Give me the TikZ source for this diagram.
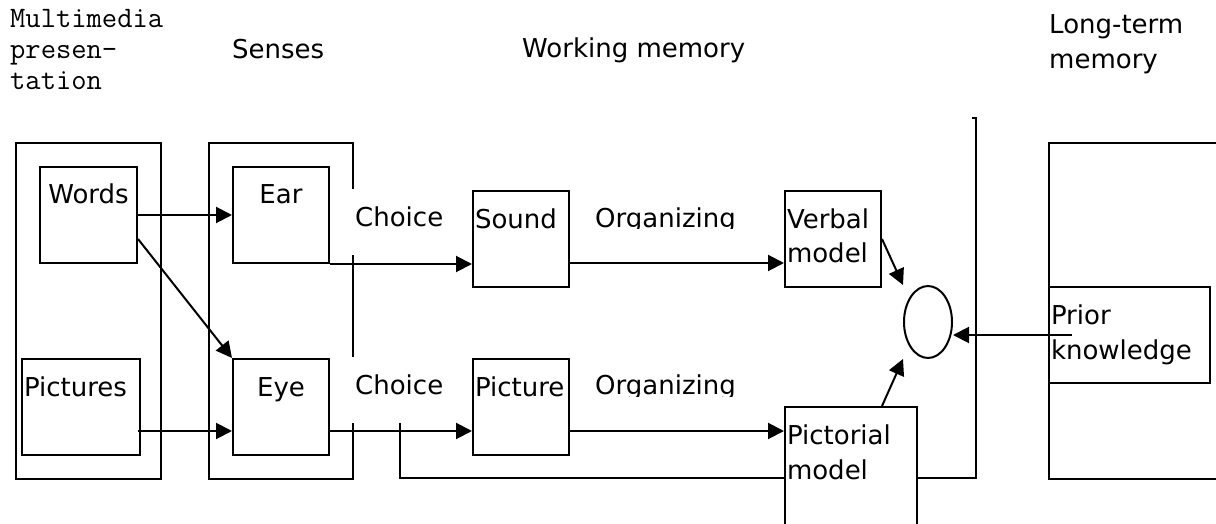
\documentclass[tikz,border=0pt]{standalone}
\usepackage{fontspec}
\setmainfont{DejaVu Sans}
\usetikzlibrary{arrows.meta,shapes.geometric}
\tikzset{
  box/.style={draw,line width=2pt,anchor=north west,inner xsep=2pt,inner ysep=0pt,
    align=left,text height=37pt,text depth=59pt,font=\fontsize{26}{35}\selectfont},
  gapbox/.style={fill=white,anchor=north west,inner xsep=3pt,inner ysep=0pt,
    text width=92pt,align=left,text height=37.7pt,text depth=28.3pt,
    font=\fontsize{26}{35}\selectfont},
  heading/.style={anchor=base west,inner sep=0pt,align=left,
    font=\fontsize{26}{35}\selectfont},
  flow/.style={-{Triangle[length=16pt,width=16pt]},line width=2pt},
  border/.style={line width=2pt}
}
\begin{document}
\begin{tikzpicture}[x=1pt,y=-1pt]
  \useasboundingbox (0,0) rectangle (1216,524);
  \clip (0,0) rectangle (1216,524);
  % Column headings
  \node[heading,text width=200pt,font=\ttfamily\fontsize{29.7}{31}\selectfont] (mmhead) at (10,28)
    {Multimedia\\presen-\\tation};
  \node[heading] (senhead) at (232,59) {Senses};
  \node[heading] (wmhead) at (522,58) {Working memory};
  \node[heading,text width=160pt] (ltmhead) at (1049,34) {Long-term\\memory};
  % Presentation and senses
  \node[box,text width=141pt,text depth=299pt] (pres) at (15,142) {};
  \node[box,text width=93pt,align=center] (words) at (39,166) {Words};
  \node[box,text width=114pt] (pictures) at (21,358) {Pictures};
  \node[box,text width=140pt,text depth=299pt] (senses) at (208,142) {};
  \node[box,text width=92pt,align=center] (ear) at (232,166) {Ear};
  \node[box,text width=92pt,align=center] (eye) at (232,358) {Eye};
  % Working memory
  \node[gapbox] (choice1) at (352,189) {Choice};
  \node[gapbox] (choice2) at (352,357) {Choice};
  \node[box,text width=92pt] (sound) at (472,190) {Sound};
  \node[box,text width=92pt] (picture) at (472,358) {Picture};
  \begin{scope}
    \clip (590,190) rectangle (760,228.5) (590,358) rectangle (760,396.5);
    \node[heading] (org1) at (595,227) {Organizing};
    \node[heading] (org2) at (595,394.5) {Organizing};
  \end{scope}
  \node[box,text width=92pt] (verbal) at (784,190) {Verbal\\model};
  \coordinate (split) at (400,423);
  \coordinate (wmtop) at (972,118);
  \draw[border] (split) -- (400,478) -- (976,478) -- (976,118) -- (wmtop);
  \node[box,fill=white,text width=128pt,text depth=97pt] (pictorial) at (784,406) {Pictorial\\model};
  \node[draw,border,ellipse,minimum width=48pt,minimum height=72pt,inner sep=0pt] (fuse) at (928,322) {};
  % Long-term memory
  \node[box,text width=178pt,text depth=299pt] (ltm) at (1048,142) {};
  \node[box,text width=157pt] (prior) at (1048,286) {Prior\\knowledge};
  % Arrows
  \draw[flow] (words) -- (ear);
  \draw[flow] ([yshift=-24pt]words.east) -- (eye.north west);
  \draw[flow] ([xshift=-3pt,yshift=-24pt]pictures.east) -- ([yshift=-24pt]eye.west);
  \draw[flow] (ear.south east) -- (ear.south east -| sound.west);
  \draw[flow] ([yshift=-24pt]eye.east) -- ([yshift=-24pt]picture.west);
  \draw[flow] ([yshift=-24pt]sound.east) -- ([yshift=-24pt]verbal.west);
  \draw[flow] ([yshift=-24pt]picture.east) -- ([yshift=-24pt]picture.east -| pictorial.west);
  \draw[flow] (verbal.east) -- (fuse.west |- fuse.north);
  \draw[flow] (verbal.east |- pictorial.north) -- (fuse.west |- fuse.south);
  \draw[flow] ([xshift=24pt]prior.west) -- (prior.west -| fuse.east);
\end{tikzpicture}
\end{document}
